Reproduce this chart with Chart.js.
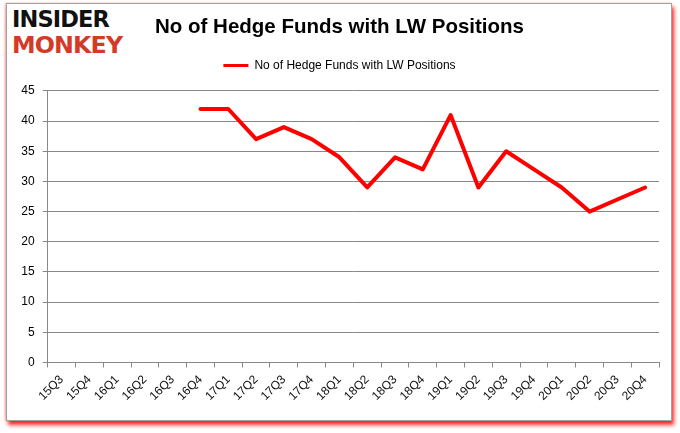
<!DOCTYPE html>
<html>
<head>
<meta charset="utf-8">
<script src="https://cdn.jsdelivr.net/npm/chart.js@4"></script>
<style>
  html, body { margin: 0; padding: 0; background: #fff; }
  #wrap { position: relative; width: 680px; height: 433px; overflow: hidden; }
  #frame {
    position: absolute; left: 6px; top: 3px; width: 664px; height: 416px;
    border: 1px solid #a0a0a0; background: #fff;
    box-shadow: 2px 4px 4px rgba(255, 0, 0, 0.85), -1px 0 2px rgba(255, 120, 120, 0.6);
  }
  #logo { position: absolute; left: 12px; top: 8px; font-family: "DejaVu Sans"; font-weight: bold; line-height: 1; }
  #logo div { transform-origin: 0 0; white-space: nowrap; letter-spacing: -1px; }
  #logo .a { color: #111; font-size: 25px; transform: scale(0.9, 0.9); }
  #logo .b { color: #d43b27; font-size: 27px; transform: scale(0.88, 0.85); margin-top: 0px; }
  canvas { position: absolute; left: 0; top: 0; }
</style>
</head>
<body>
<div id="wrap">
  <div id="frame"></div>
  <div id="logo"><div class="a">INSIDER</div><div class="b">MONKEY</div></div>
  <canvas id="chart" width="680" height="433"></canvas>
</div>
<script>
const quarters = ["15Q3", "15Q4", "16Q1", "16Q2", "16Q3", "16Q4", "17Q1", "17Q2", "17Q3", "17Q4", "18Q1",
  "18Q2", "18Q3", "18Q4", "19Q1", "19Q2", "19Q3", "19Q4", "20Q1", "20Q2", "20Q3", "20Q4"];
const hedgeFunds = [null, null, null, null, null, 42, 42, 37, 39, 37, 34,
  29, 34, 32, 41, 29, 35, 32, 29, 25, 27, 29];
const seriesName = "No of Hedge Funds with LW Positions";
const yMax = 45;
const yStep = 5;

const font = "'Liberation Sans', Arial, sans-serif";

new Chart(document.getElementById("chart").getContext("2d"), {
  type: "line",
  data: {
    labels: quarters,
    datasets: [
      {
        label: seriesName,
        data: hedgeFunds,
        borderColor: "#ff0000",
        backgroundColor: "#ff0000",
        borderWidth: 4,
        pointRadius: 0,
        tension: 0,
        borderCapStyle: "round",
        borderJoinStyle: "round",
      },
    ],
  },
  options: {
    responsive: false,
    animation: false,
    layout: { padding: { top: 3, left: 20, right: 21, bottom: 0 } },
    plugins: {
      title: {
        display: true,
        text: seriesName,
        color: "#000",
        font: { family: font, size: 20.5, weight: "bold" },
        padding: { top: 12, bottom: 10 },
      },
      // empty spacer between legend and plot
      subtitle: {
        display: true,
        text: "",
        weight: 500,
        font: { size: 1, lineHeight: 1 },
        padding: { top: 8.3, bottom: 0 },
      },
      legend: {
        display: true,
        labels: {
          color: "#000",
          font: { family: font, size: 12 },
          boxWidth: 25,
          boxHeight: 3,
          padding: 10,
          generateLabels: (chart) =>
            Chart.defaults.plugins.legend.labels.generateLabels(chart).map((l) => ({ ...l, lineWidth: 0 })),
        },
      },
      tooltip: { enabled: false },
    },
    scales: {
      x: {
        offset: true,
        grid: { offset: true, drawOnChartArea: false, color: "#888", tickLength: 5 },
        border: { color: "#888" },
        ticks: { color: "#111", font: { family: font, size: 12 }, minRotation: 45, maxRotation: 45, padding: 5 },
        afterFit: (s) => { s.height = 70.5; },
      },
      y: {
        min: 0,
        max: yMax,
        ticks: { stepSize: yStep, color: "#000", font: { family: font, size: 12 }, padding: 8 },
        grid: { color: "#888", tickLength: 5 },
        border: { color: "#888" },
        afterFit: (s) => { s.width = 27.7; },
      },
    },
  },
});
</script>
</body>
</html>
